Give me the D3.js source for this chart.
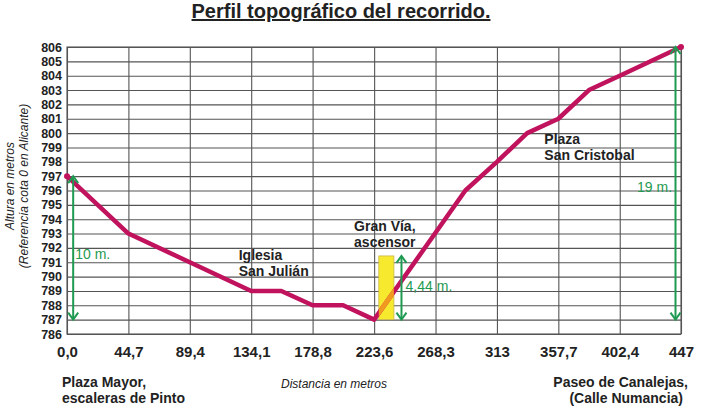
<!DOCTYPE html>
<html>
<head>
<meta charset="utf-8">
<script src="https://cdn.jsdelivr.net/npm/d3@7"></script>
<style>
  body { margin: 0; background: #fff; }
  svg { display: block; font-family: "Liberation Sans", Arial, sans-serif; }
</style>
</head>
<body>
<div id="chart"></div>
<script>
// profile data
var distances = [0, 44.7, 89.4, 134.1, 156, 178.8, 201, 223.6, 290, 313, 335, 357.7, 380, 402.4, 447];
var altitudes = [797, 793, 791, 789, 789, 788, 788, 787, 796, 798, 800, 801, 803, 804, 806];

var xTicks = [0, 44.7, 89.4, 134.1, 178.8, 223.6, 268.3, 313, 357.7, 402.4, 447];
var xTickLabels = ["0,0", "44,7", "89,4", "134,1", "178,8", "223,6", "268,3", "313", "357,7", "402,4", "447"];
var yTicks = d3.range(786, 807);

// lift (ascensor) box and height arrows
var liftBox = {x0: 227, x1: 238, y0: 787, y1: 791.44};
var arrows = [
  {x: 4.5, from: 797, to: 787, label: "10 m.", lx: 6, ly: 791.2, anchor: "start"},
  {x: 243.5, from: 787, to: 791.44, label: "4,44 m.", lx: 246.5, ly: 789, anchor: "start"},
  {x: 443, from: 806, to: 787, label: "19 m.", lx: 440.5, ly: 795.9, anchor: "end"}
];
var notes = [
  {x: 125, y: 791.15, lines: ["Iglesia", "San Julián"]},
  {x: 209, y: 793.2, lines: ["Gran Vía,", "ascensor"]},
  {x: 347.5, y: 799.25, lines: ["Plaza", "San Cristobal"]}
];

var width = 714, height = 407;
var margin = {top: 47, left: 67, right: 33, bottom: 73};
var chartWidth = width - margin.left - margin.right,
    chartHeight = height - margin.top - margin.bottom;

var svg = d3.select("#chart").append("svg")
    .attr("width", width)
    .attr("height", height);

var x = d3.scaleLinear().domain([0, 447]).range([0, chartWidth]);
var y = d3.scaleLinear().domain([786, 806]).range([chartHeight, 0]);

var g = svg.append("g")
    .attr("transform", "translate(" + [margin.left, margin.top] + ")");

// horizontal grid + y labels
var yAxis = g.append("g")
    .call(d3.axisLeft(y).tickValues(yTicks).tickSize(-chartWidth).tickPadding(5).tickFormat(d3.format("d")));
yAxis.select(".domain").remove();
yAxis.selectAll("line").attr("stroke", "#555").attr("stroke-width", 1.1);
yAxis.selectAll("text")
    .attr("font-family", "Liberation Sans, Arial, sans-serif")
    .attr("font-size", 12.5).attr("font-weight", "bold").attr("fill", "#222");

// vertical grid + x labels
var xAxis = g.append("g")
    .attr("transform", "translate(0," + chartHeight + ")")
    .call(d3.axisBottom(x).tickValues(xTicks).tickSize(-chartHeight).tickPadding(12)
        .tickFormat(function (d, i) { return xTickLabels[i]; }));
xAxis.select(".domain").remove();
xAxis.selectAll("line").attr("stroke", "#555").attr("stroke-width", 1.1);
xAxis.selectAll("text")
    .attr("font-family", "Liberation Sans, Arial, sans-serif")
    .attr("font-size", 15).attr("font-weight", "bold").attr("fill", "#222");

// frame
g.append("rect")
    .attr("width", chartWidth).attr("height", chartHeight)
    .attr("fill", "none").attr("stroke", "#555").attr("stroke-width", 1.1);

// lift box
g.append("rect")
    .attr("x", x(liftBox.x0)).attr("y", y(liftBox.y1))
    .attr("width", x(liftBox.x1) - x(liftBox.x0))
    .attr("height", y(liftBox.y0) - y(liftBox.y1))
    .attr("fill", "#f7ea2e").attr("stroke", "#c9b64a").attr("stroke-width", 0.8);

var points = distances.map(function (d, i) { return [d, altitudes[i]]; });
var line = d3.line().x(function (d) { return x(d[0]); }).y(function (d) { return y(d[1]); });

g.append("path")
    .datum(points)
    .attr("d", line)
    .attr("fill", "none").attr("stroke", "#c1135d")
    .attr("stroke-width", 4.5).attr("stroke-linejoin", "round");

// orange part of the line inside the lift box
g.append("clipPath").attr("id", "liftClip")
    .append("rect")
    .attr("x", x(liftBox.x0)).attr("y", y(liftBox.y1))
    .attr("width", x(liftBox.x1) - x(liftBox.x0))
    .attr("height", y(liftBox.y0) - y(liftBox.y1));
g.append("path")
    .datum(points)
    .attr("d", line)
    .attr("clip-path", "url(#liftClip)")
    .attr("fill", "none").attr("stroke", "#f29a1f")
    .attr("stroke-width", 4.5);

// end dots
g.selectAll(".end").data([points[0], points[points.length - 1]])
  .enter().append("circle")
    .attr("cx", function (d) { return x(d[0]); })
    .attr("cy", function (d) { return y(d[1]); })
    .attr("r", 3).attr("fill", "#c1135d");

// green height arrows
var green = "#1f9a52";
arrows.forEach(function (a) {
    var ax = x(a.x), y1 = y(a.from), y2 = y(a.to);
    g.append("line")
        .attr("x1", ax).attr("x2", ax).attr("y1", y1).attr("y2", y2)
        .attr("stroke", green).attr("stroke-width", 2);
    [[y1, y1 < y2 ? 1 : -1], [y2, y2 < y1 ? 1 : -1]].forEach(function (h) {
        g.append("path")
            .attr("d", "M" + (ax - 5) + "," + (h[0] + h[1] * 7) + "L" + ax + "," + h[0] + "L" + (ax + 5) + "," + (h[0] + h[1] * 7))
            .attr("fill", "none").attr("stroke", green).attr("stroke-width", 2);
    });
    g.append("text")
        .attr("x", x(a.lx)).attr("y", y(a.ly))
        .attr("text-anchor", a.anchor)
        .attr("font-size", 14).attr("fill", green)
        .text(a.label);
});

// place notes
notes.forEach(function (n) {
    var t = g.append("text")
        .attr("x", x(n.x)).attr("y", y(n.y))
        .attr("font-size", 14).attr("font-weight", "bold").attr("fill", "#222");
    n.lines.forEach(function (l, i) {
        t.append("tspan").attr("x", x(n.x)).attr("dy", i ? 16 : 0).text(l);
    });
});

// title
svg.append("text")
    .attr("x", 341).attr("y", 18)
    .attr("text-anchor", "middle")
    .attr("font-size", 20).attr("font-weight", "bold").attr("fill", "#222")
    .attr("text-decoration", "underline")
    .text("Perfil topográfico del recorrido.");

// axis titles
svg.append("text")
    .attr("x", 334).attr("y", 388)
    .attr("text-anchor", "middle")
    .attr("font-size", 12).attr("font-style", "italic").attr("fill", "#222")
    .text("Distancia en metros");

var yTitle = svg.append("text")
    .attr("transform", "translate(14,186) rotate(-90)")
    .attr("text-anchor", "middle")
    .attr("font-size", 12).attr("font-style", "italic").attr("fill", "#222");
yTitle.append("tspan").attr("x", 0).attr("y", 0).text("Altura en metros");
yTitle.append("tspan").attr("x", 0).attr("y", 14).text("(Referencia cota 0 en Alicante)");

// start / end place names
var startName = svg.append("text")
    .attr("font-size", 14).attr("font-weight", "bold").attr("fill", "#222");
startName.append("tspan").attr("x", 62).attr("y", 387).text("Plaza Mayor,");
startName.append("tspan").attr("x", 62).attr("y", 403).text("escaleras de Pinto");

var endName = svg.append("text")
    .attr("font-size", 14).attr("font-weight", "bold").attr("fill", "#222")
    .attr("text-anchor", "end");
endName.append("tspan").attr("x", 688).attr("y", 387).text("Paseo de Canalejas,");
endName.append("tspan").attr("x", 683).attr("y", 403).text("(Calle Numancia)");
</script>
</body>
</html>
